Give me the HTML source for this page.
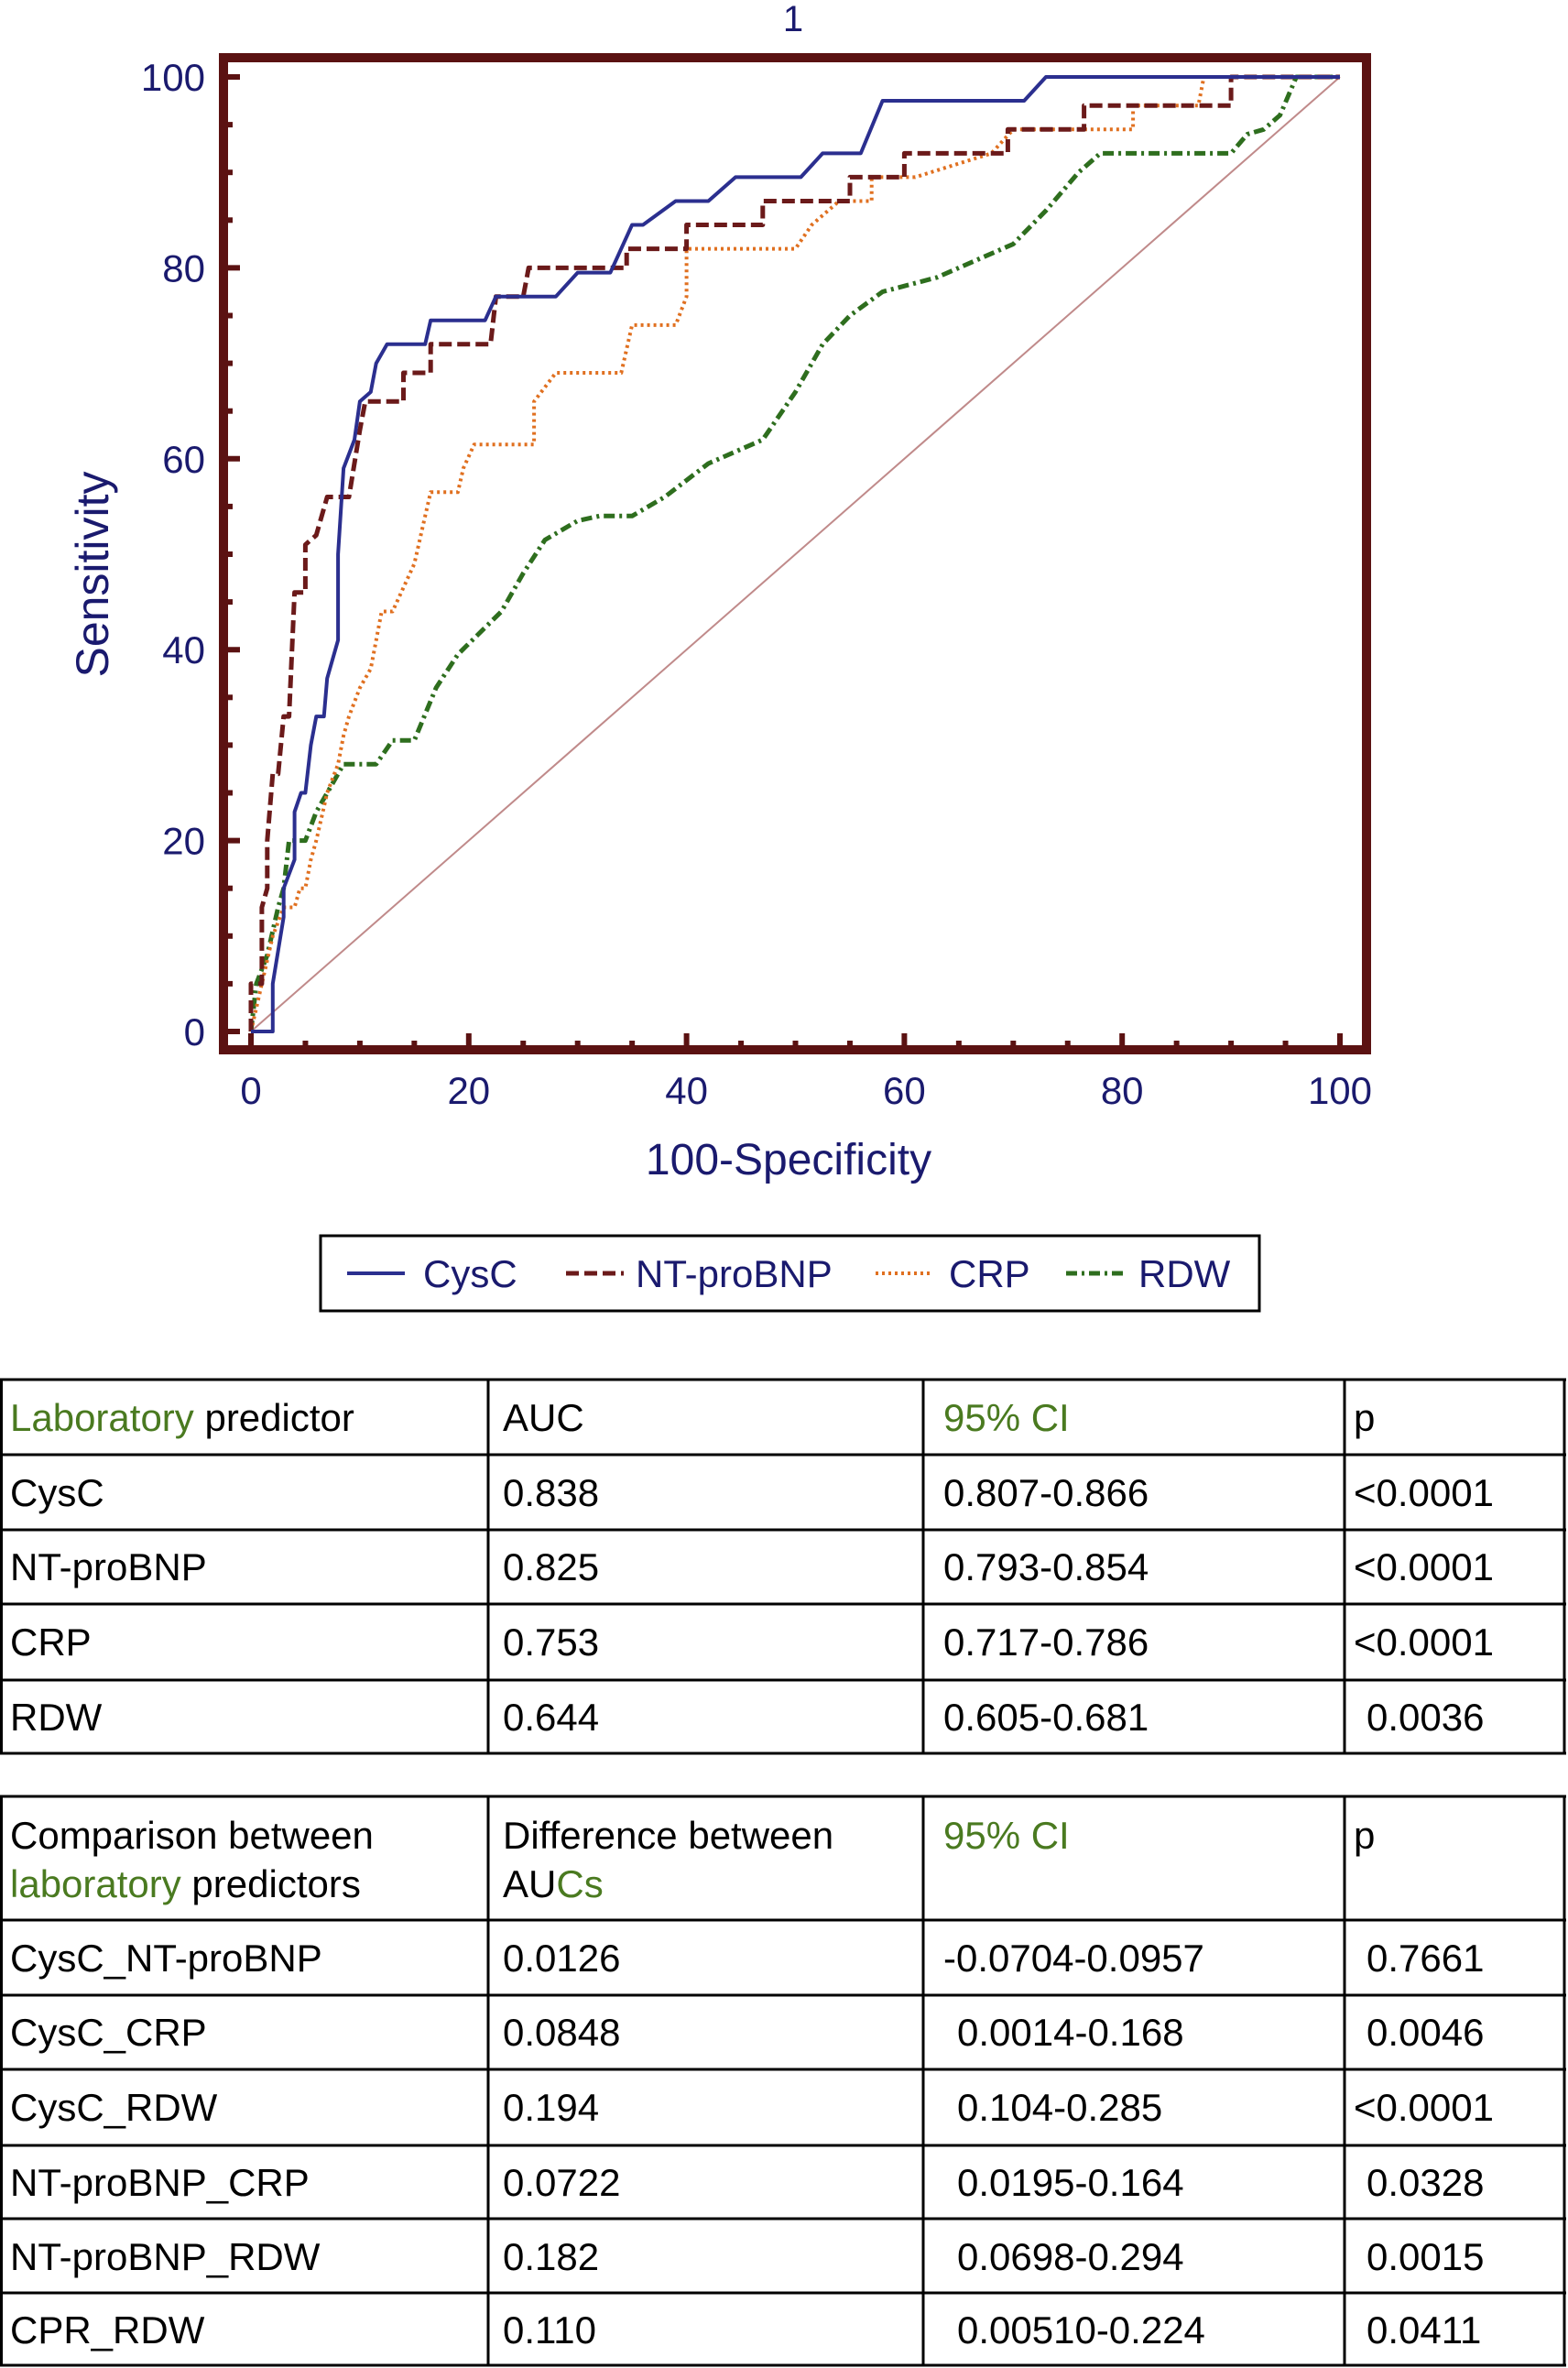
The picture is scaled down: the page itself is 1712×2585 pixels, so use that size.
<!DOCTYPE html>
<html><head><meta charset="utf-8"><style>
html,body{margin:0;padding:0;background:#fff;}
svg{display:block;font-family:"Liberation Sans",sans-serif;}
</style></head><body>
<svg id="s" width="1712" height="2585" viewBox="0 0 1712 2585">
<text x="866" y="34" font-size="40" fill="#1a1a6e" text-anchor="middle">1</text>
<g id="plot"></g>
<text transform="translate(118,627) rotate(-90)" font-size="50" fill="#1a1a6e" text-anchor="middle">Sensitivity</text>
<text x="861" y="1282" font-size="48" fill="#1a1a6e" text-anchor="middle">100-Specificity</text>
<g>
<rect x="350" y="1349" width="1025" height="82" fill="none" stroke="#000" stroke-width="3"/>
<g><line x1="379" y1="1390" x2="442" y2="1390" stroke="#2b2f8f" stroke-width="4"/><text x="462" y="1405" font-size="42" fill="#1a1a6e">CysC</text></g>
<g><line x1="618" y1="1390" x2="681" y2="1390" stroke="#6b1a1a" stroke-width="5" stroke-dasharray="14,6"/><text x="694" y="1405" font-size="42" fill="#1a1a6e">NT-proBNP</text></g>
<g><line x1="956" y1="1390" x2="1017" y2="1390" stroke="#e07020" stroke-width="4" stroke-dasharray="3,4"/><text x="1036" y="1405" font-size="42" fill="#1a1a6e">CRP</text></g>
<g><line x1="1164" y1="1390" x2="1228" y2="1390" stroke="#2e6e1e" stroke-width="5" stroke-dasharray="12,5,3,5"/><text x="1243" y="1405" font-size="42" fill="#1a1a6e">RDW</text></g>
</g>
<g id="tables"></g>
</svg>
<script>
const xTicks=[0,20,40,60,80,100];
const yTicks=[0,20,40,60,80,100];
const cyscX=[0,2,2,3,3,4,4,4.6,5,5.5,6,6.7,7,8,8,8.5,9.5,10,11,11.5,12.5,16,16.5,21.5,22.5,28,30,33,35,36,39,42,44.5,50.5,52.5,56,58,71,73,100];
const cyscY=[0,0,5,12,15,18,23,25,25,30,33,33,37,41,50,59,62,66,67,70,72,72,74.5,74.5,77,77,79.5,79.5,84.5,84.5,87,87,89.5,89.5,92,92,97.5,97.5,100,100];
const ntX=[0,0,1,1,1.5,1.5,2,2.5,3,3.5,4,5,5,6,7,9,10,10.5,14,14,16.5,16.5,22,22.5,25,25.5,34.5,34.5,40,40,47,47,55,55,60,60,69.5,69.5,76.5,76.5,90,90,100];
const ntY=[0,5,5,13,15,20,27,27,33,33,46,46,51,52,56,56,63,66,66,69,69,72,72,77,77,80,80,82,82,84.5,84.5,87,87,89.5,89.5,92,92,94.5,94.5,97,97,100,100];
const crpX=[0,1,2,3,4,4.5,5,5.5,6,7,8,8.5,9,10,11,12,13,15,16,16.5,19,19.5,20.5,26,26,28,34,35,39,40,40,50,51.5,54,57,57,61,68,70,81,81,87,87.5,100];
const crpY=[0,5,10,13,13,15,15,18,20,25,28,31,33,36,38,44,44,49,54,56.5,56.5,59,61.5,61.5,66,69,69,74,74,77,82,82,84.5,87,87,89.5,89.5,92,94.5,94.5,97,97,100,100];
const rdwX=[0,0.5,1.5,2.5,3,3.5,5,6,7.5,8.5,11.5,13,15,17,19,23,25,27,30,32,35,38,42,47,50,52.5,55,58,63,67,70,73,76,78,90,91.5,93,94.5,96,100];
const rdwY=[0,5,8,13,15,20,20,23,26,28,28,30.5,30.5,36,39.5,44,48,51.5,53.5,54,54,56,59.5,62,67,72,75,77.5,79,81,82.5,86,90,92,92,94,94.5,96,100,100];
const NS="http://www.w3.org/2000/svg";
const X0=274,X1=1463,Y0=1126,Y1=84;
function xs(v){return X0+v*(X1-X0)/100;}
function ys(v){return Y0-v*(Y0-Y1)/100;}
function mk(tag,attrs,parent,txt){const e=document.createElementNS(NS,tag);for(const k in attrs)e.setAttribute(k,attrs[k]);if(txt!==undefined)e.textContent=txt;parent.appendChild(e);return e;}
const plot=document.getElementById('plot');
const dg=mk('line',{x1:xs(0),y1:ys(0),x2:xs(100),y2:ys(100),stroke:'#c08a8a','stroke-width':2},plot);


function series(xa,ya,st,name){
  let d='';for(let i=0;i<xa.length;i++)d+=(i?'L':'M')+xs(xa[i]).toFixed(1)+','+ys(ya[i]).toFixed(1);
  const p=mk('path',Object.assign({d:d,fill:'none','stroke-linejoin':'round'},st),plot);
  
  
}
series(rdwX,rdwY,{stroke:'#2e6e1e','stroke-width':5,'stroke-dasharray':'12,5,3,5'},'rdw-curve');
series(crpX,crpY,{stroke:'#e07020','stroke-width':4,'stroke-dasharray':'3,4'},'crp-curve');
series(ntX,ntY,{stroke:'#6b1a1a','stroke-width':5,'stroke-dasharray':'14,6'},'ntprobnp-curve');
series(cyscX,cyscY,{stroke:'#2b2f8f','stroke-width':4},'cysc-curve');
const fr=mk('rect',{x:244,y:63,width:1248,height:1083,fill:'none',stroke:'#5b1212','stroke-width':10},plot);


for(let v=0;v<=100;v+=5){
  const L=(v%20===0)?18:10;
  mk('line',{x1:244,y1:ys(v),x2:244+L,y2:ys(v),stroke:'#5b1212','stroke-width':6},plot);
  mk('line',{x1:xs(v),y1:1146,x2:xs(v),y2:1146-L,stroke:'#5b1212','stroke-width':6},plot);
}
yTicks.forEach(v=>{const t=mk('text',{x:224,y:ys(v)+15,'font-size':42,fill:'#1a1a6e','text-anchor':'end'},plot,String(v));

});
xTicks.forEach(v=>{const t=mk('text',{x:xs(v),y:1205,'font-size':42,fill:'#1a1a6e','text-anchor':'middle'},plot,String(v));

});
const tg=document.getElementById('tables');
const cols=[1.5,533,1008,1468,1708];
function table(top,lines,bottom,rows,name){
  const g=mk('g',{},tg);
  
  
  [top].concat(lines,[bottom]).forEach(y=>mk('line',{x1:0,y1:y,x2:1710,y2:y,stroke:'#000','stroke-width':3},g));
  cols.forEach(x=>mk('line',{x1:x,y1:top,x2:x,y2:bottom,stroke:'#000','stroke-width':3},g));
  rows.forEach(r=>{r.cells.forEach((c,i)=>{
    const t=mk('text',{x:c.x,y:r.y,'font-size':42,fill:'#000'},g);
    c.parts.forEach(p=>{mk('tspan',{fill:p[1]||'#000'},t,p[0]);});
  });});
}
const G='#4a7a20';
function row(y,a,b,c,d,cx,dx){return {y:y,cells:[{x:11,parts:[[a]]},{x:549,parts:[[b]]},{x:cx||1030,parts:[[c]]},{x:dx||1492,parts:[[d]]}]};}
const t1rows=[
 {y:1562,cells:[{x:11,parts:[['Laboratory',G],['  predictor']]},{x:549,parts:[['AUC']]},{x:1030,parts:[['95% CI',G]]},{x:1478,parts:[['p']]}]},
 row(1644,'CysC','0.838','0.807-0.866','<0.0001',1030,1478),
 row(1725,'NT-proBNP','0.825','0.793-0.854','<0.0001',1030,1478),
 row(1807,'CRP','0.753','0.717-0.786','<0.0001',1030,1478),
 row(1889,'RDW','0.644','0.605-0.681','0.0036')
];
table(1506,[1588,1670,1751,1834],1914,t1rows,'auc-table');
const t2rows=[
 {y:2018,cells:[{x:11,parts:[['Comparison between']]},{x:549,parts:[['Difference between']]},{x:1030,parts:[['95% CI',G]]},{x:1478,parts:[['p']]}]},
 {y:2071,cells:[{x:11,parts:[['laboratory',G],[' predictors']]},{x:549,parts:[['AU'],['Cs',G]]}]},
 row(2152,'CysC_NT-proBNP','0.0126','-0.0704-0.0957','0.7661'),
 row(2233,'CysC_CRP','0.0848','0.0014-0.168','0.0046',1045),
 row(2315,'CysC_RDW','0.194','0.104-0.285','<0.0001',1045,1478),
 row(2397,'NT-proBNP_CRP','0.0722','0.0195-0.164','0.0328',1045),
 row(2478,'NT-proBNP_RDW','0.182','0.0698-0.294','0.0015',1045),
 row(2558,'CPR_RDW','0.110','0.00510-0.224','0.0411',1045)
];
table(1961,[2096,2178,2259,2342,2422,2503],2582,t2rows,'auc-comparison-table');
</script>
</body></html>
